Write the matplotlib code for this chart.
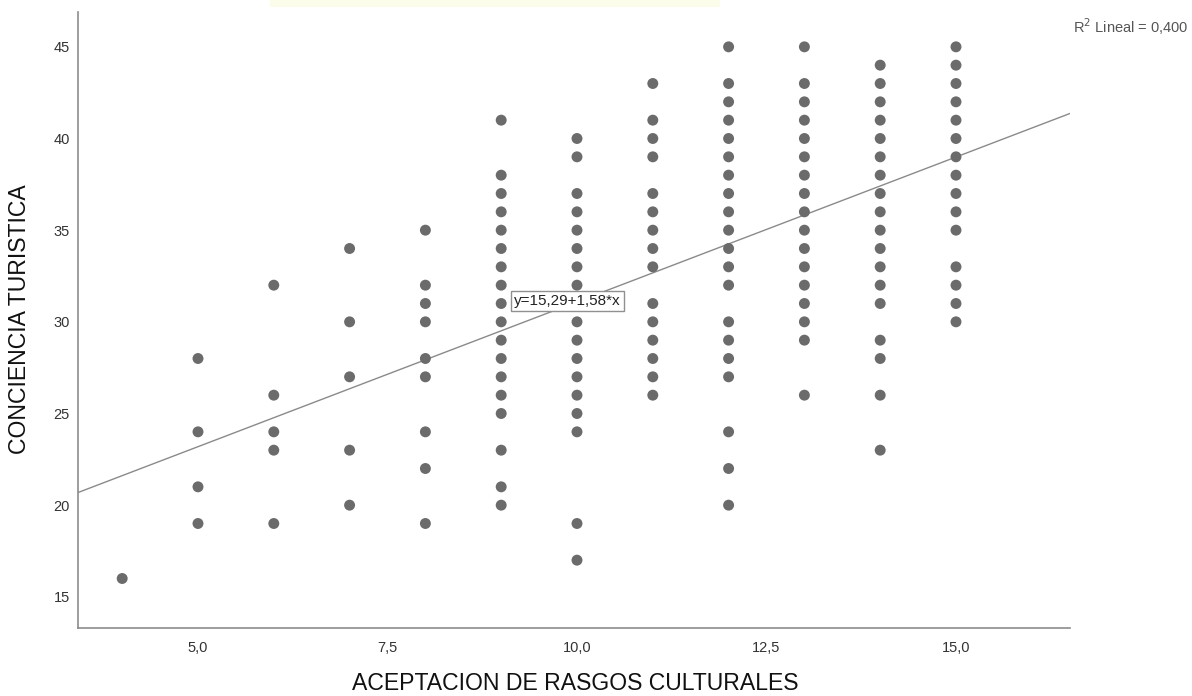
import numpy as np
import matplotlib
matplotlib.use("Agg")
import matplotlib.pyplot as plt
from matplotlib.ticker import FixedLocator, FuncFormatter

plt.rcParams['font.family'] = ['Liberation Sans', 'DejaVu Sans']

# Observed scores grouped by ACEPTACION DE RASGOS CULTURALES value
x_levels = [4, 5, 6, 7, 8, 9, 10, 11, 12, 13, 14, 15]
y_by_level = [
    [16],
    [28, 24, 21, 19],
    [32, 26, 24, 23, 19],
    [34, 30, 27, 23, 20],
    [35, 32, 31, 30, 28, 27, 24, 22, 19],
    [41, 38, 37, 36, 35, 34, 33, 32, 31, 30, 29, 28, 27, 26, 25, 23, 21, 20],
    [40, 39, 37, 36, 35, 34, 33, 32, 31, 30, 29, 28, 27, 26, 25, 24, 19, 17],
    [43, 41, 40, 39, 37, 36, 35, 34, 33, 31, 30, 29, 28, 27, 26],
    [45, 43, 42, 41, 40, 39, 38, 37, 36, 35, 34, 33, 32, 30, 29, 28, 27, 24, 22, 20],
    [45, 43, 42, 41, 40, 39, 38, 37, 36, 35, 34, 33, 32, 31, 30, 29, 26],
    [44, 43, 42, 41, 40, 39, 38, 37, 36, 35, 34, 33, 32, 31, 29, 28, 26, 23],
    [45, 44, 43, 42, 41, 40, 39, 38, 37, 36, 35, 33, 32, 31, 30],
]

# Fitted line: y = 15,29 + 1,58*x, R^2 = 0,400
intercept = 15.29
slope = 1.58
r_squared = 0.400

x_ticks = [5.0, 7.5, 10.0, 12.5, 15.0]
y_ticks = [15, 20, 25, 30, 35, 40, 45]
x_label = "ACEPTACION DE RASGOS CULTURALES"
y_label = "CONCIENCIA TURISTICA"

xs = np.concatenate([[lv] * len(v) for lv, v in zip(x_levels, y_by_level)])
ys = np.concatenate([np.array(v, dtype=float) for v in y_by_level])

W, H = 1192, 696
fig = plt.figure(figsize=(W / 100, H / 100), dpi=100)
ax = fig.add_axes([78 / W, (H - 628) / H, (1070 - 78) / W, (628 - 12) / H])

xmin, xmax = 3.417, 16.504
ymin, ymax = 13.3, 46.9
ax.set_xlim(xmin, xmax)
ax.set_ylim(ymin, ymax)

ax.scatter(xs, ys, s=62, color='#6b6b6b', edgecolors='none', zorder=3)

line_x = np.array([xmin, xmax])
ax.plot(line_x, intercept + slope * line_x, color='#8a8a8a', lw=1.0, zorder=2)

for side in ('top', 'right'):
    ax.spines[side].set_visible(False)
for side in ('left', 'bottom'):
    ax.spines[side].set_color('#8c8c8c')
    ax.spines[side].set_linewidth(1.2)

ax.xaxis.set_major_locator(FixedLocator(x_ticks))
ax.yaxis.set_major_locator(FixedLocator(y_ticks))
ax.xaxis.set_major_formatter(FuncFormatter(lambda v, p: f"{v:.1f}".replace('.', ',')))
ax.yaxis.set_major_formatter(FuncFormatter(lambda v, p: f"{v:.0f}"))
ax.tick_params(axis='both', length=0, labelsize=10.5, colors='#333333')
ax.tick_params(axis='x', pad=9.5)
ax.tick_params(axis='y', pad=6)

fig.text(575 / W, (H - 690) / H, x_label, fontsize=16.6, color='#111111',
         ha='center', va='baseline')
fig.text(20 / W, 1 - 319 / H, y_label, fontsize=16.6, color='#111111',
         ha='center', va='center', rotation=90)

eq_text = f"y={intercept:.2f}+{slope:.2f}*x".replace('.', ',')
ax.text(9.87, 31.15, eq_text, fontsize=11, color='#222222', ha='center', va='center',
        zorder=5,
        bbox=dict(boxstyle='square,pad=0.2', facecolor='white', edgecolor='#909090', lw=1.0))

fig.text(1073 / W, 1 - 27 / H, "R$^{2}$ Lineal = " + f"{r_squared:.3f}".replace('.', ','),
         fontsize=10.5, color='#555555', ha='left', va='center')

# faint tint along the top edge
fig.patches.append(plt.Rectangle((270 / W, 1 - 7 / H), 450 / W, 7 / H, transform=fig.transFigure,
                                 facecolor='#fbfdea', edgecolor='none', zorder=0))

fig.savefig("out.png", dpi=100, facecolor='white')
